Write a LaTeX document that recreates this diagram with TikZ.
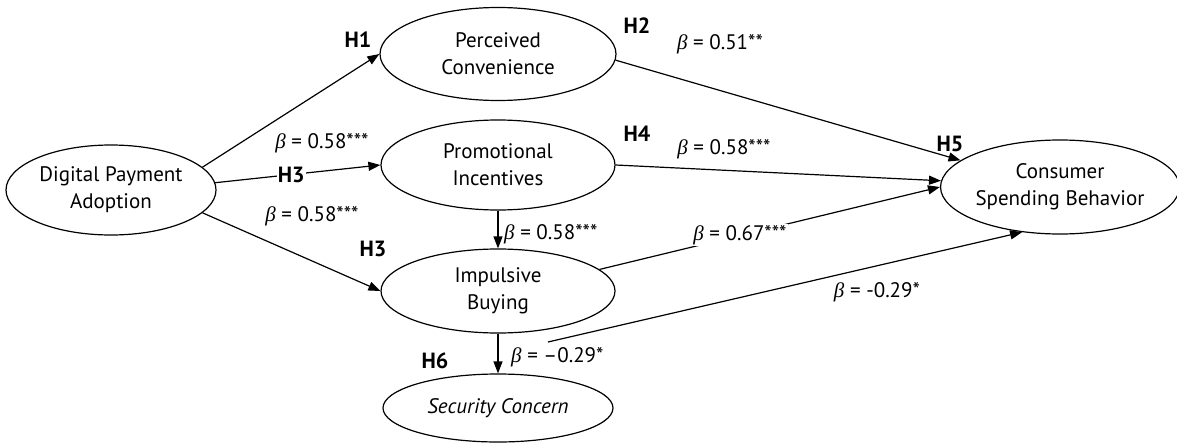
\documentclass[tikz,border=0pt]{standalone}
\usepackage{fontspec}
\setmainfont{PT Sans}
\newfontfamily\bfam{Liberation Serif}
\newcommand{\bt}{{\bfam\itshape β}}
\usetikzlibrary{shapes.geometric,arrows.meta}
\begin{document}
\begin{tikzpicture}[x=1pt,y=-1pt,
  lat/.style={ellipse,draw,line width=1.2pt,inner sep=0pt,align=center,font=\fontsize{21}{27}\selectfont},
  arr/.style={line width=1.2pt,-{Triangle[length=12pt,width=9pt]}},
  hyp/.style={font=\fontsize{22}{24}\selectfont\bfseries,inner sep=1pt},
  coef/.style={font=\fontsize{21}{24}\selectfont,inner sep=1pt}]
\useasboundingbox (0,0) rectangle (1177,444);
\node[lat,minimum width=210pt,minimum height=90pt] (DPA) at (111,190) {Digital Payment\\Adoption};
\node[lat,minimum width=236pt,minimum height=93pt] (PC) at (498,54) {Perceived\\Convenience};
\node[lat,minimum width=234pt,minimum height=90pt] (PI) at (498,165) {Promotional\\Incentives};
\node[lat,minimum width=234pt,minimum height=84pt] (IB) at (498,291) {Impulsive\\Buying};
\node[lat,minimum width=230pt,minimum height=68pt] (SC) at (498,408) {\itshape Security Concern};
\node[lat,minimum width=226pt,minimum height=94pt] (CSB) at (1060,187) {Consumer\\Spending Behavior};
\coordinate (ibx) at (548,342);

\draw[arr] (DPA.14) -- (PC.west);
\draw[arr] (DPA.4) -- node[hyp,fill=white,pos=0.46] (h3a) {H3} (PI.west);
\draw[arr] (DPA.-14) -- (IB.west);
\draw[arr] (PC.-3) -- (CSB.165);
\draw[arr] (PI.east) -- (CSB.177);
\draw[arr] (IB.12) -- (CSB.west);
\draw[arr] (ibx) -- (CSB.230);
\draw[arr] (PI.south) -- (IB.north);
\draw[arr] (IB.south) -- (SC.north);

\node[hyp] (h1) at (358,40) {H1};
\node[hyp] (h2) at (637,26) {H2};
\node[hyp] (h3b) at (373,249) {H3};
\node[hyp] (h4) at (637,134) {H4};
\node[hyp] (h5) at (950,144) {H5};
\node[hyp] (h6) at (435,361) {H6};

\node[coef] (c1) at (720,44) {\bt{} = 0.51**};
\node[coef] (c2) at (322,143) {\bt{} = 0.58***};
\node[coef] (c3) at (312,216) {\bt{} = 0.58***};
\node[coef] (c4) at (724,149) {\bt{} = 0.58***};
\node[coef,anchor=west] (c5) at (503,234) {\bt{} = 0.58***};
\node[coef,fill=white] (c6) at (740,235) {\bt{} = 0.67***};
\node[coef] (c7) at (877,292) {\bt{} = -0.29*};
\node[coef,anchor=west] (c8) at (510,357) {\bt{} = --0.29*};
\end{tikzpicture}
\end{document}
